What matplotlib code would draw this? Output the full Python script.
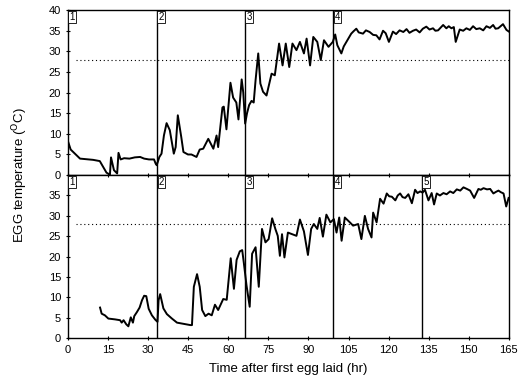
import matplotlib.pyplot as plt

plt.rcParams['font.family'] = ['Liberation Sans', 'DejaVu Sans']

# upper trace (hr, deg C)
top_hr = [0, 1, 4.5, 9.4, 11.9, 14.4, 15.7, 16.1, 17.2, 18.4, 18.9, 19.7, 21, 23, 25, 27,
          28.5, 30.3, 32.2, 32.8, 33.2, 34.2, 35, 35.9, 36.9, 38.1, 39.6, 40.3, 41.1,
          42.4, 43.2, 44.9, 46.2, 48.1, 49.3, 50.6, 52.5, 54.4, 55.6, 56.2, 57.8, 58.3,
          59.3, 60.8, 61.8, 63, 63.8, 65, 65.6, 66.3, 67, 67.8, 68.7, 69.5, 70.2, 71.2,
          72, 73, 74.3, 76.2, 77.4, 79, 80.3, 81.5, 82.8, 84, 85.5, 86.8, 88.3, 89.3,
          90.6, 91.8, 93.3, 94.6, 95.8, 97.5, 99.1, 100, 100.8, 102.3, 103.2, 104.2,
          105.1, 106, 106.9, 107.9, 108.8, 110.4, 111.5, 112.9, 114.2, 115.4, 116.6,
          117.9, 118.9, 120.1, 121.6, 122.8, 124.1, 125.5, 126.7, 127.8, 129.1, 130.3,
          131.6, 132.8, 134.1, 135.3, 136.6, 137.5, 138.5, 140.4, 141.6, 142.5, 143.5,
          144.4, 145.1, 146.6, 147.9, 149.1, 150.4, 151.6, 152.8, 154.1, 155.4, 156.6,
          157.9, 159.1, 160, 161, 162.8, 164.1, 165]
top_temp = [8.2, 6.2, 4.0, 3.7, 3.4, 0.6, 0.1, 4.3, 1.2, 0.4, 5.4, 3.8, 4.1, 4.0, 4.3, 4.4,
            4.0, 3.8, 3.8, 2.8, 2.4, 4.4, 5.2, 9.6, 12.6, 10.9, 5.2, 6.8, 14.5,
            9.2, 5.6, 5.0, 5.0, 4.4, 6.2, 6.4, 8.8, 6.4, 9.6, 6.8, 16.4, 16.6,
            11.1, 22.4, 18.8, 17.6, 13.5, 23.2, 20.0, 12.5, 15.0, 17.0, 18.0, 17.6, 23.0, 29.5,
            22.2, 20.2, 19.3, 24.6, 24.2, 31.9, 26.6, 31.9, 26.2, 31.9, 30.3, 32.3, 29.5, 33.1,
            26.6, 33.5, 32.3, 27.9, 32.7, 31.1, 32.3, 34.1, 31.5, 29.5, 31.2, 32.3,
            33.3, 34.3, 34.9, 35.5, 34.6, 34.3, 35.1, 34.7, 34.0, 33.9, 32.9,
            35.0, 34.4, 32.3, 34.8, 34.2, 35.1, 34.7, 35.4, 34.5, 35.0, 35.3,
            34.6, 35.5, 36.0, 35.3, 35.6, 35.0, 35.1, 36.4, 35.6, 36.1, 35.6,
            35.9, 32.3, 35.3, 35.0, 35.6, 35.2, 36.1, 35.4, 35.6, 35.1, 36.1,
            35.7, 36.4, 35.5, 35.6, 36.6, 35.2, 34.8]

# lower trace (hr, deg C)
bot_hr = [12, 12.6, 13.8, 15.1, 17.6, 19.5, 20.1, 20.8, 21.8, 22.6, 23.5, 24.3, 24.8,
          25.8, 26.8, 27.7, 28.5, 29.3, 30.2, 31.4, 32.7, 33.5, 33.9, 34.5, 35.7, 37,
          38.9, 40.8, 43.3, 45.8, 46.4, 47.1, 48.3, 49.3, 50.2, 51.4, 52.6, 53.8, 55,
          56.2, 58.1, 59.4, 60.9, 62.1, 63.1, 64.3, 65.2, 65.8, 66.8, 68, 68.9, 70.2,
          71.4, 72.6, 73.9, 75.1, 76.4, 77.6, 78.5, 79.3, 80.1, 81, 82.3, 83.9, 85.5,
          86.8, 88.3, 89.8, 91, 92, 93.3, 94.2, 95.4, 96.7, 98.2, 99.5, 100.5, 101.5,
          102.4, 103.6, 105.5, 106.7, 108.6, 109.8, 111.1, 112.3, 113.6, 114.2, 115.5,
          116.8, 118.1, 119.3, 120.2, 121.2, 122.5, 123.4, 124.3, 125.2, 126.2, 127.4,
          128.7, 129.9, 130.8, 131.8, 132.7, 133.6, 134.9, 136.1, 137, 138, 139.2, 140.5,
          141.7, 143, 144.2, 145.5, 146.8, 148, 149.3, 150.5, 152, 153.6, 154.5, 155.5,
          156.8, 158, 159.2, 160.2, 161.1, 162, 163, 164, 164.9]
bot_temp = [7.5, 6.0, 5.6, 4.8, 4.6, 4.4, 3.8, 4.4, 3.4, 2.9, 5.1, 3.8, 5.4,
            6.4, 7.5, 9.3, 10.4, 10.3, 7.2, 5.6, 4.5, 4.0, 9.3, 10.8, 7.3, 5.9,
            4.8, 3.8, 3.5, 3.2, 3.2, 12.6, 15.7, 12.6, 6.9, 5.4, 6.0, 5.6, 8.2,
            6.9, 9.6, 9.4, 19.6, 12.1, 19.2, 21.3, 21.6, 18.5, 13.0, 7.7, 20.7, 22.3,
            12.6, 26.8, 23.5, 24.3, 29.4, 26.8, 25.1, 20.2, 25.5, 19.8, 25.9, 25.5, 25.1,
            29.1, 26.2, 20.4, 26.8, 28.0, 26.8, 29.5, 24.9, 30.3, 28.4, 29.2, 25.9, 29.6,
            23.9, 29.6, 28.4, 27.6, 28.0, 24.3, 30.0, 26.8, 24.7, 30.8, 28.4,
            34.2, 33.0, 35.5, 34.8, 34.7, 33.8, 35.0, 35.5, 34.6, 34.4, 35.3,
            33.1, 36.4, 35.6, 36.0, 35.7, 36.4, 33.8, 35.6, 32.8, 35.5, 35.0, 35.6,
            35.3, 36.0, 35.6, 36.5, 36.2, 37.0, 36.6, 36.2, 34.4, 36.6, 36.4, 36.8,
            36.5, 36.6, 35.5, 35.9, 36.2, 35.8, 35.5, 32.3, 34.4]

top_marks = [0, 33.2, 66.2, 99.3]
bot_marks = [0, 33.4, 66.2, 99.3, 132.3]
threshold = 28

fig = plt.figure(figsize=(5.23, 3.9), dpi=100)
ax1 = fig.add_axes([0.130, 0.551, 0.843, 0.423])
ax2 = fig.add_axes([0.130, 0.133, 0.843, 0.418])

for ax, hr, temp, marks in [(ax1, top_hr, top_temp, top_marks),
                            (ax2, bot_hr, bot_temp, bot_marks)]:
    ax.plot(hr, temp, color='black', lw=1.4)
    ax.plot([3, 165], [threshold, threshold], color='black', ls=(0, (1, 2.5)), lw=0.8)
    for i, m in enumerate(marks):
        if m > 0:
            ax.axvline(m, color='black', lw=1)
        ax.text(m + 0.6, 39.6, str(i + 1), fontsize=7, ha='left', va='top',
                bbox=dict(boxstyle='square,pad=0.12', fc='white', ec='black', lw=0.6))
    ax.set_xlim(0, 165)
    ax.set_ylim(0, 40)
    ax.set_xticks(range(0, 166, 15))
    ax.set_yticks(range(0, 41, 5))
    for s in ax.spines.values():
        s.set_linewidth(1)
    ax.tick_params(labelsize=8, length=3, width=0.8)

ax1.tick_params(axis='x', bottom=False, labelbottom=False)
ax1.tick_params(axis='y', direction='inout')
ax2.set_yticks(range(0, 36, 5))
ax2.tick_params(axis='x', direction='inout', top=True)
ax2.tick_params(axis='y', direction='inout')
ax2.set_xlabel('Time after first egg laid (hr)', fontsize=9.5, labelpad=6)

fig.text(0.038, 0.55, 'EGG temperature ($^{\\rm O}$C)', rotation=90,
         ha='center', va='center', fontsize=9.5)

fig.savefig('out.png', dpi=100)
